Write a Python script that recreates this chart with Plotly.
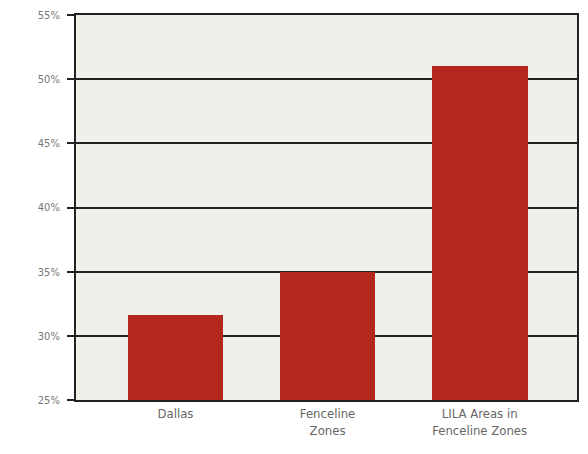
import plotly.graph_objects as go

categories = ["Dallas", "Fenceline<br>Zones", "LILA Areas in<br>Fenceline Zones"]
values = [31.6, 35.0, 51.0]
tick_vals = [25, 30, 35, 40, 45, 50, 55]
tick_text = ["25%", "30%", "35%", "40%", "45%", "50%", "55%"]

fig = go.Figure(go.Bar(
    x=list(range(len(categories))), y=values,
    marker=dict(color="#b3271c", line=dict(width=0)),
    width=0.63,
))

fig.update_layout(
    width=572, height=438,
    margin=dict(l=68, r=1, t=7, b=46),
    paper_bgcolor="white", plot_bgcolor="#f1efe9",
    showlegend=False,
    font=dict(family="DejaVu Sans Condensed, Liberation Sans Narrow, sans-serif", color="#666"),
    bargap=0,
)
fig.update_xaxes(
    tickmode="array", tickvals=list(range(len(categories))), ticktext=categories,
    range=[-0.654, 2.64], showgrid=False, ticks="",
    showline=True, linecolor="#222", linewidth=2, mirror=True,
    tickfont=dict(size=13, color="#666"),
)
fig.update_yaxes(
    range=[25, 55], tickmode="array", tickvals=tick_vals, ticktext=tick_text,
    showgrid=True, gridcolor="#222", gridwidth=1.5,
    ticks="outside", ticklen=7, tickcolor="#222", tickwidth=1.5,
    ticklabelstandoff=5,
    showline=True, linecolor="#222", linewidth=2, mirror=True,
    tickfont=dict(size=11, color="#777"), zeroline=False,
)

fig.write_html("out.html")
